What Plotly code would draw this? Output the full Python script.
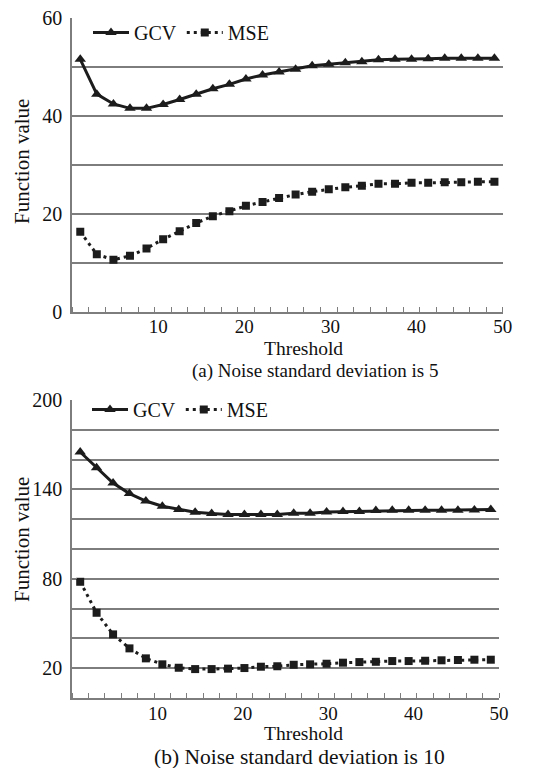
import plotly.graph_objects as go

# ---- data ----
threshold = [0.96, 2.88, 4.81, 6.73, 8.65, 10.58, 12.50, 14.42, 16.35, 18.27,
             20.19, 22.12, 24.04, 25.96, 27.88, 29.81, 31.73, 33.65, 35.58, 37.50,
             39.42, 41.35, 43.27, 45.19, 47.12, 49.04]

gcv_a = [51.5, 44.4, 42.4, 41.5, 41.5, 42.3, 43.3, 44.4, 45.5, 46.4,
         47.5, 48.3, 48.9, 49.5, 50.2, 50.5, 50.8, 51.0, 51.4, 51.5,
         51.5, 51.6, 51.7, 51.7, 51.7, 51.7]
mse_a = [16.3, 11.7, 10.6, 11.4, 12.9, 14.8, 16.4, 18.1, 19.5, 20.5,
         21.6, 22.4, 23.2, 23.9, 24.5, 25.0, 25.4, 25.7, 26.1, 26.1,
         26.3, 26.3, 26.4, 26.4, 26.5, 26.5]

gcv_b = [165.1, 154.6, 144.3, 137.2, 132.2, 128.7, 126.5, 124.7, 123.8, 123.1,
         123.1, 123.1, 123.1, 124.0, 124.0, 124.9, 125.1, 125.1, 125.8, 126.0,
         126.0, 126.0, 126.0, 126.0, 126.2, 126.5]
mse_b = [78.0, 57.2, 42.7, 33.3, 26.6, 22.6, 20.3, 19.4, 19.4, 19.7,
         20.1, 21.0, 21.3, 22.3, 22.6, 23.0, 23.7, 24.1, 24.3, 24.8,
         24.8, 25.0, 25.3, 25.5, 25.7, 25.7]

x_tickvals = [10, 20, 30, 40, 50]
y_tickvals_a = [0, 10, 20, 30, 40, 50, 60]
y_ticktext_a = ["0", "", "20", "", "40", "", "60"]
y_tickvals_b = [0, 20, 40, 60, 80, 100, 120, 140, 160, 180, 200]
y_ticktext_b = ["", "20", "", "", "80", "", "", "140", "", "", "200"]

series_names = ["GCV", "MSE"]
captions = ["(a) Noise standard deviation is 5", "(b) Noise standard deviation is 10"]

FONT = "Liberation Serif"
INK = "#1c1c1c"
GRID = "#7d7d7d"
TXT = "#111111"
W, H = 544, 768

fig = go.Figure()

for (gcv, mse, xa, ya, lg) in [(gcv_a, mse_a, "x", "y", "legend"),
                               (gcv_b, mse_b, "x2", "y2", "legend2")]:
    fig.add_trace(go.Scatter(
        x=threshold, y=gcv, name=series_names[0], mode="lines+markers",
        xaxis=xa, yaxis=ya, legend=lg,
        line=dict(color=INK, width=3),
        marker=dict(symbol="triangle-up", size=10, color=INK)))
    fig.add_trace(go.Scatter(
        x=threshold, y=mse, name=series_names[1], mode="lines+markers",
        xaxis=xa, yaxis=ya, legend=lg,
        line=dict(color=INK, width=3, dash="3px,4px"),
        marker=dict(symbol="square", size=8, color=INK)))

def xaxis_cfg(domain, anchor):
    return dict(
        domain=domain, anchor=anchor, range=[0, 50], automargin=False,
        tickmode="array", tickvals=x_tickvals, ticks="",
        showgrid=False, zeroline=False,
        showline=True, linecolor=GRID, linewidth=1.5,
        tickfont=dict(family=FONT, size=19, color=TXT),
        ticklabelstandoff=-3,
        minor=dict(tick0=0, dtick=50 / 26, ticks="inside", ticklen=5,
                   tickcolor=GRID, tickwidth=1.2, showgrid=False),
        fixedrange=True)

def yaxis_cfg(domain, anchor, rng, tv, tt):
    return dict(
        domain=domain, anchor=anchor, range=rng, automargin=False,
        tickmode="array", tickvals=tv, ticktext=tt,
        ticks="inside", ticklen=5, tickcolor=GRID, tickwidth=1.2,
        showgrid=True, gridcolor=GRID, gridwidth=1.5,
        zeroline=False, showline=True, linecolor=GRID, linewidth=1.5,
        tickfont=dict(family=FONT, size=20, color=TXT),
        ticklabelstandoff=4,
        fixedrange=True)

fig.update_layout(
    width=W, height=H,
    margin=dict(l=0, r=0, t=0, b=0, autoexpand=False),
    paper_bgcolor="white", plot_bgcolor="white",
    font=dict(family=FONT, size=20, color=TXT),
    xaxis=xaxis_cfg([72 / W, 502.7 / W], "y"),
    yaxis=yaxis_cfg([1 - 311.7 / H, 1 - 17.7 / H], "x", [0, 60], y_tickvals_a, y_ticktext_a),
    xaxis2=xaxis_cfg([72 / W, 499 / W], "y2"),
    yaxis2=yaxis_cfg([1 - 698 / H, 1 - 400 / H], "x2", [0, 200], y_tickvals_b, y_ticktext_b),
    legend=dict(orientation="h", x=88 / W, y=1 - 13 / H, xanchor="left", yanchor="top",
                bgcolor="rgba(0,0,0,0)", font=dict(family=FONT, size=20, color=TXT),
                itemwidth=36, tracegroupgap=0),
    legend2=dict(orientation="h", x=87 / W, y=1 - 390 / H, xanchor="left", yanchor="top",
                 bgcolor="rgba(0,0,0,0)", font=dict(family=FONT, size=20, color=TXT),
                 itemwidth=36, tracegroupgap=0),
    showlegend=True,
)

def note(text, xpx, ypx, size, angle=0):
    return dict(text=text, x=xpx / W, y=1 - ypx / H, xref="paper", yref="paper",
                xanchor="center", yanchor="middle", textangle=angle, showarrow=False,
                font=dict(family=FONT, size=size, color=TXT))

ann = [
    note("Function value", 22, 162, 21, -90),
    note("Function value", 22, 540, 21, -90),
    note("Threshold", 303, 349, 19.5),
    note("Threshold", 303, 733.5, 19.5),
    note(captions[0], 315, 371, 19),
    note(captions[1], 299, 757, 21.5),
]
fig.update_layout(annotations=ann)

fig.write_html("out.html", config={"displayModeBar": False},
               post_script="document.body.style.margin='0';")
